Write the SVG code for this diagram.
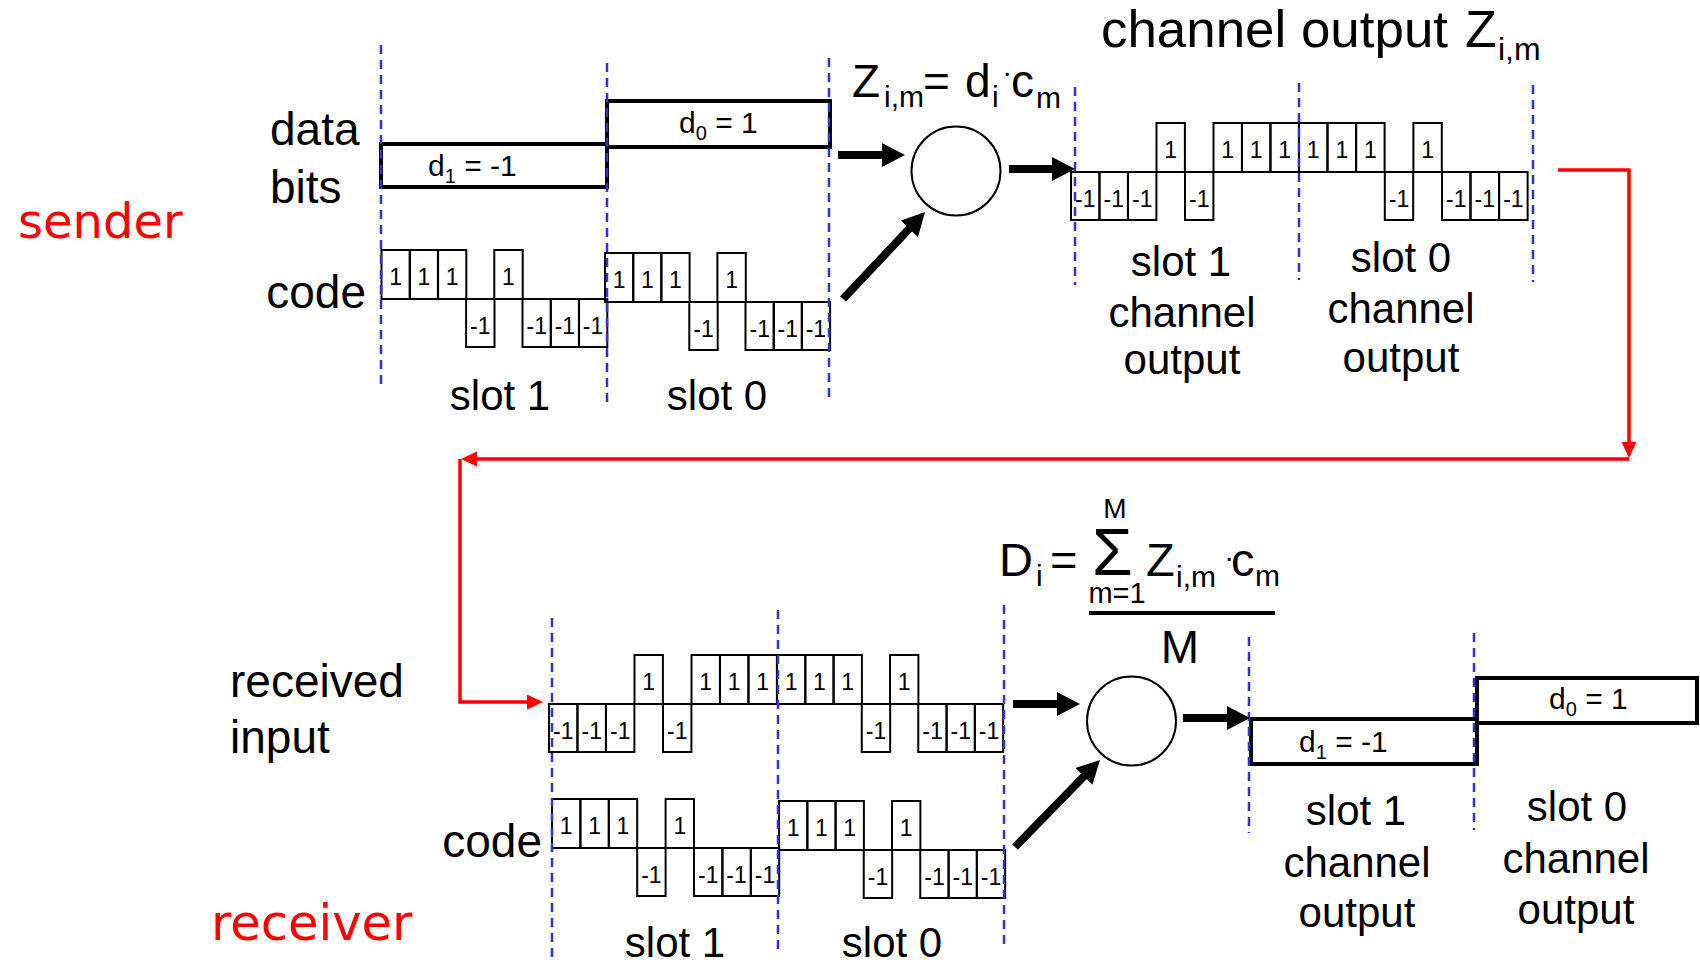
<svg xmlns="http://www.w3.org/2000/svg" xmlns:xlink="http://www.w3.org/1999/xlink" width="1700" height="963" viewBox="0 0 1700 963">
<style>
text{font-family:"Liberation Sans",Arial,sans-serif;fill:#000}
.chip rect{fill:none;stroke:#000;stroke-width:2}
.chip text{font-size:23px;text-anchor:middle}
.lbl{font-size:42px;text-anchor:middle}
.side{font-size:46px}
.big{font-size:46px}
.sub{font-size:30px}
.bitt{font-size:30px}
.bit{fill:none;stroke:#000;stroke-width:4}
.dash{stroke:#3333cc;stroke-width:2.5;stroke-dasharray:9 6;fill:none}
.arr{stroke:#000;stroke-width:8;fill:none;marker-end:url(#ah)}
.red{stroke:#ff0000;stroke-width:3.5;fill:none;marker-end:url(#rh)}
.role{font-family:"DejaVu Sans",sans-serif;fill:#ff0000}
.circ{fill:#fff;stroke:#000;stroke-width:2}
</style>
<defs>
<marker id="ah" markerUnits="userSpaceOnUse" markerWidth="24" markerHeight="24" refX="3" refY="12" orient="auto"><path d="M0,0 L23,12 L0,24 z" fill="#000"/></marker>
<marker id="rh" markerUnits="userSpaceOnUse" markerWidth="17" markerHeight="16" refX="2" refY="7.5" orient="auto"><path d="M0,0 L16,7.5 L0,15 z" fill="#ff0000"/></marker>
<g id="p" class="chip"><rect x="0" y="-49" width="28.4" height="49"/><text x="14.2" y="-14">1</text></g>
<g id="m" class="chip"><rect x="0" y="0" width="28.4" height="48"/><text x="14.2" y="35">-1</text></g>
</defs>
<rect width="1700" height="963" fill="#fff"/>

<g id="sender-label"><text class="role" x="18" y="238" font-size="48">sender</text></g>
<g id="data-bits-label"><text class="side" x="270" y="145">data</text><text class="side" x="270" y="203">bits</text></g>
<g id="code-label-tx"><text class="side" x="366" y="308" text-anchor="end">code</text></g>

<g id="sender-data-bits">
<rect class="bit" x="381" y="144" width="226" height="43"/>
<rect class="bit" x="607" y="101" width="223" height="46"/>
<text class="bitt" x="428" y="176">d<tspan font-size="20" dy="7">1</tspan><tspan dy="-7"> = -1</tspan></text>
<text class="bitt" x="679" y="133">d<tspan font-size="20" dy="7">0</tspan><tspan dy="-7"> = 1</tspan></text>
</g>

<g id="sender-code">
<use href="#p" x="381.5" y="299"/><use href="#p" x="409.7" y="299"/><use href="#p" x="437.9" y="299"/><use href="#m" x="466.1" y="299"/>
<use href="#p" x="494.3" y="299"/><use href="#m" x="522.5" y="299"/><use href="#m" x="550.7" y="299"/><use href="#m" x="578.9" y="299"/>
<use href="#p" x="605" y="302"/><use href="#p" x="633.1" y="302"/><use href="#p" x="661.2" y="302"/><use href="#m" x="689.3" y="302"/>
<use href="#p" x="717.4" y="302"/><use href="#m" x="745.5" y="302"/><use href="#m" x="773.6" y="302"/><use href="#m" x="801.7" y="302"/>
</g>
<g id="sender-slot-labels"><text class="lbl" x="500" y="410">slot 1</text><text class="lbl" x="717" y="410">slot 0</text></g>

<g id="sender-formula">
<text class="big" x="852" y="97">Z</text><text class="sub" x="884" y="107">i,m</text>
<text class="big" x="923" y="97">=</text>
<text class="big" x="965" y="97">d</text><text class="sub" x="992" y="107">i</text>
<text class="sub" x="1003" y="76">.</text>
<text class="big" x="1011" y="97">c</text><text class="sub" x="1036" y="108">m</text>
</g>
<g id="sender-multiplier"><circle class="circ" cx="956" cy="171" r="44.5"/></g>

<g id="channel-title">
<text x="1101" y="47" font-size="52" textLength="347" lengthAdjust="spacingAndGlyphs">channel output</text>
<text x="1465" y="47" font-size="52">Z</text><text x="1498" y="60" font-size="32">i,m</text>
</g>

<g id="channel-output">
<use href="#m" x="1071" y="172"/><use href="#m" x="1099.5" y="172"/><use href="#m" x="1128" y="172"/><use href="#p" x="1156.5" y="172"/>
<use href="#m" x="1185" y="172"/><use href="#p" x="1213.5" y="172"/><use href="#p" x="1242" y="172"/><use href="#p" x="1270.5" y="172"/>
<use href="#p" x="1299" y="172"/><use href="#p" x="1327.6" y="172"/><use href="#p" x="1356.2" y="172"/><use href="#m" x="1384.8" y="172"/>
<use href="#p" x="1413.4" y="172"/><use href="#m" x="1442" y="172"/><use href="#m" x="1470.6" y="172"/><use href="#m" x="1499.2" y="172"/>
</g>
<g id="channel-output-labels">
<text class="lbl" x="1181" y="276">slot 1</text><text class="lbl" x="1182" y="327">channel</text><text class="lbl" x="1182" y="374">output</text>
<text class="lbl" x="1401" y="272">slot 0</text><text class="lbl" x="1401" y="323">channel</text><text class="lbl" x="1401" y="372">output</text>
</g>

<g id="receiver-label"><text class="role" x="211" y="940" font-size="49.5">receiver</text></g>
<g id="received-input-label"><text class="side" x="230" y="697">received</text><text class="side" x="230" y="753">input</text></g>
<g id="code-label-rx"><text class="side" x="542" y="857" text-anchor="end">code</text></g>

<g id="received-input">
<use href="#m" x="549" y="704"/><use href="#m" x="577.5" y="704"/><use href="#m" x="606" y="704"/><use href="#p" x="634.5" y="704"/>
<use href="#m" x="663" y="704"/><use href="#p" x="691.5" y="704"/><use href="#p" x="720" y="704"/><use href="#p" x="748.5" y="704"/>
<use href="#p" x="777" y="704"/><use href="#p" x="805.25" y="704"/><use href="#p" x="833.5" y="704"/><use href="#m" x="861.75" y="704"/>
<use href="#p" x="890" y="704"/><use href="#m" x="918.25" y="704"/><use href="#m" x="946.5" y="704"/><use href="#m" x="974.75" y="704"/>
</g>
<g id="receiver-code">
<use href="#p" x="552" y="848"/><use href="#p" x="580.4" y="848"/><use href="#p" x="608.8" y="848"/><use href="#m" x="637.2" y="848"/>
<use href="#p" x="665.6" y="848"/><use href="#m" x="694" y="848"/><use href="#m" x="722.4" y="848"/><use href="#m" x="750.8" y="848"/>
<use href="#p" x="779" y="850"/><use href="#p" x="807.25" y="850"/><use href="#p" x="835.5" y="850"/><use href="#m" x="863.75" y="850"/>
<use href="#p" x="892" y="850"/><use href="#m" x="920.25" y="850"/><use href="#m" x="948.5" y="850"/><use href="#m" x="976.75" y="850"/>
</g>
<g id="receiver-slot-labels"><text class="lbl" x="675" y="957">slot 1</text><text class="lbl" x="892" y="957">slot 0</text></g>

<g id="receiver-formula">
<text x="999" y="576" font-size="47">D</text><text class="sub" x="1036" y="586">i</text>
<text x="1050" y="576" font-size="47">=</text>
<text x="1115" y="518" font-size="28" text-anchor="middle">M</text>
<text x="1092" y="575" font-size="66">Σ</text>
<text x="1117" y="603" font-size="29" text-anchor="middle">m=1</text>
<text x="1146" y="576" font-size="47">Z</text><text class="sub" x="1176" y="587">i,m</text>
<text class="sub" x="1225" y="561">.</text>
<text x="1231" y="576" font-size="47">c</text><text class="sub" x="1255" y="586">m</text>
<rect x="1089" y="611" width="186" height="4" fill="#000"/>
<text x="1180" y="663" font-size="46" text-anchor="middle">M</text>
</g>
<g id="receiver-integrator"><circle class="circ" cx="1131.5" cy="721" r="44.5"/></g>

<g id="receiver-data-bits">
<rect class="bit" x="1251" y="719" width="226" height="45"/>
<rect class="bit" x="1477" y="678" width="220" height="45"/>
<text class="bitt" x="1299" y="752">d<tspan font-size="20" dy="7">1</tspan><tspan dy="-7"> = -1</tspan></text>
<text class="bitt" x="1549" y="709">d<tspan font-size="20" dy="7">0</tspan><tspan dy="-7"> = 1</tspan></text>
</g>
<g id="receiver-output-labels">
<text class="lbl" x="1356" y="825">slot 1</text><text class="lbl" x="1357" y="877">channel</text><text class="lbl" x="1357" y="927">output</text>
<text class="lbl" x="1577" y="821">slot 0</text><text class="lbl" x="1576" y="873">channel</text><text class="lbl" x="1576" y="924">output</text>
</g>

<g id="slot-dividers">
<line class="dash" x1="381" y1="45" x2="381" y2="385"/>
<line class="dash" x1="607" y1="63" x2="607" y2="405"/>
<line class="dash" x1="829" y1="58" x2="829" y2="400"/>
<line class="dash" x1="1075" y1="87" x2="1075" y2="285"/>
<line class="dash" x1="1299" y1="83" x2="1299" y2="280"/>
<line class="dash" x1="1533" y1="85" x2="1533" y2="282"/>
<line class="dash" x1="552" y1="618" x2="552" y2="963"/>
<line class="dash" x1="778" y1="610" x2="778" y2="953"/>
<line class="dash" x1="1004" y1="605" x2="1004" y2="948"/>
<line class="dash" x1="1249" y1="637" x2="1249" y2="833"/>
<line class="dash" x1="1474" y1="633" x2="1474" y2="830"/>
</g>

<g id="connectors">
<line class="arr" x1="838" y1="155" x2="885" y2="155"/>
<line class="arr" x1="1009" y1="169" x2="1055" y2="169"/>
<line class="arr" x1="843" y1="299" x2="911.3" y2="226.6"/>
<line class="arr" x1="1013" y1="704" x2="1060" y2="704"/>
<line class="arr" x1="1183" y1="718" x2="1230" y2="718"/>
<line class="arr" x1="1015" y1="847" x2="1086" y2="774.3"/>
<path class="red" d="M1558,170 H1629 V444"/>
<path class="red" d="M1629,459 H475"/>
<path class="red" d="M460,459 V702 H529"/>
</g>
</svg>
